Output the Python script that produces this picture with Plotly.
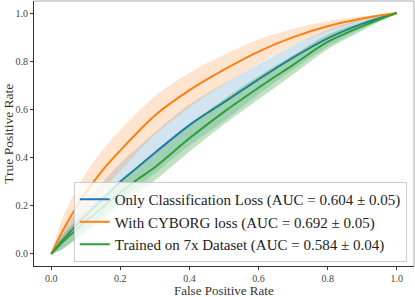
import numpy as np
import plotly.graph_objects as go

fpr = [0, 0.025, 0.05, 0.075, 0.1, 0.15, 0.2, 0.25, 0.3, 0.4, 0.5, 0.6, 0.7, 0.8, 0.9, 1.0]

blue_mean = [0, 0.045, 0.085, 0.123, 0.16, 0.23, 0.30, 0.36, 0.42, 0.535, 0.63, 0.725, 0.815, 0.895, 0.955, 1.0]
blue_std = [0, 0.03, 0.045, 0.053, 0.06, 0.07, 0.078, 0.082, 0.085, 0.085, 0.078, 0.062, 0.05, 0.035, 0.02, 0]

orange_mean = [0, 0.075, 0.14, 0.2, 0.255, 0.35, 0.43, 0.505, 0.575, 0.68, 0.765, 0.84, 0.90, 0.945, 0.977, 1.0]
orange_std = [0, 0.045, 0.065, 0.074, 0.08, 0.085, 0.085, 0.083, 0.08, 0.072, 0.062, 0.05, 0.035, 0.022, 0.01, 0]

green_mean = [0, 0.038, 0.072, 0.104, 0.135, 0.195, 0.255, 0.31, 0.36, 0.48, 0.59, 0.69, 0.785, 0.88, 0.945, 1.0]
green_std = [0, 0.025, 0.035, 0.04, 0.045, 0.05, 0.052, 0.054, 0.055, 0.055, 0.052, 0.048, 0.04, 0.03, 0.018, 0]

labels = [
    "Only Classification Loss (AUC = 0.604 ± 0.05)",
    "With CYBORG loss (AUC = 0.692 ± 0.05)",
    "Trained on 7x Dataset (AUC = 0.584 ± 0.04)",
]
x_ticks = [0.0, 0.2, 0.4, 0.6, 0.8, 1.0]
y_ticks = [0.0, 0.2, 0.4, 0.6, 0.8, 1.0]

series = [
    (blue_mean, blue_std, "#1f77b4", "rgba(31,119,180,0.2)"),
    (orange_mean, orange_std, "#ff7f0e", "rgba(255,127,14,0.2)"),
    (green_mean, green_std, "#2ca02c", "rgba(44,160,44,0.3)"),
]

FONT = "Liberation Serif"
fig = go.Figure()
x = np.array(fpr)
for i, (m, s, col, fillc) in enumerate(series):
    m = np.array(m)
    s = np.array(s)
    up = np.minimum(m + s, 1)
    lo = np.maximum(m - s, 0)
    g = "g%d" % i
    fig.add_trace(go.Scatter(x=x, y=up, mode="lines", line=dict(width=0, shape="spline"),
                             showlegend=False, hoverinfo="skip", legendgroup=g))
    fig.add_trace(go.Scatter(x=x, y=lo, mode="lines", line=dict(width=0, shape="spline"),
                             fill="tonexty", fillcolor=fillc, showlegend=False,
                             hoverinfo="skip", legendgroup=g))
    fig.add_trace(go.Scatter(x=x, y=m, mode="lines", name=labels[i],
                             line=dict(color=col, width=2, shape="spline"), legendgroup=g))

axis_common = dict(
    range=[-0.05, 1.05], showgrid=False, zeroline=False, ticks="outside", ticklen=3,
    tickwidth=1, tickcolor="#333", showline=True, linecolor="#333", linewidth=1,
    tickfont=dict(family=FONT, size=10, color="#444"), tickformat=".1f",
    automargin=False,
)
fig.update_xaxes(**axis_common, tickvals=x_ticks)
fig.update_yaxes(**axis_common, tickvals=y_ticks)

fig.add_annotation(text="False Positive Rate", xref="paper", yref="paper", x=0.5, y=-0.0906,
                   xanchor="center", yanchor="middle", showarrow=False,
                   font=dict(family=FONT, size=13, color="#333"))
fig.add_annotation(text="True Positive Rate", xref="paper", yref="paper", x=-0.068, y=0.5,
                   xanchor="center", yanchor="middle", textangle=-90, showarrow=False,
                   font=dict(family=FONT, size=13.5, color="#333"))

fig.add_shape(type="line", xref="paper", yref="paper", x0=0, x1=1, y0=1, y1=1,
              line=dict(color="#aaa", width=1))
fig.add_shape(type="line", xref="paper", yref="paper", x0=1, x1=1, y0=0, y1=1,
              line=dict(color="#aaa", width=1))

fig.update_layout(
    width=415, height=297,
    margin=dict(l=34, r=1, t=1, b=31, autoexpand=False),
    paper_bgcolor="white", plot_bgcolor="white",
    legend=dict(x=0.981, y=0.015, xanchor="right", yanchor="bottom",
                bgcolor="rgba(255,255,255,0.8)", bordercolor="#ccc", borderwidth=1,
                font=dict(family=FONT, size=15, color="#222"),
                traceorder="grouped", tracegroupgap=0),
)
fig.write_html("out.html", config={"displayModeBar": False},
               post_script="document.body.style.margin='0';document.body.style.overflow='hidden';")
